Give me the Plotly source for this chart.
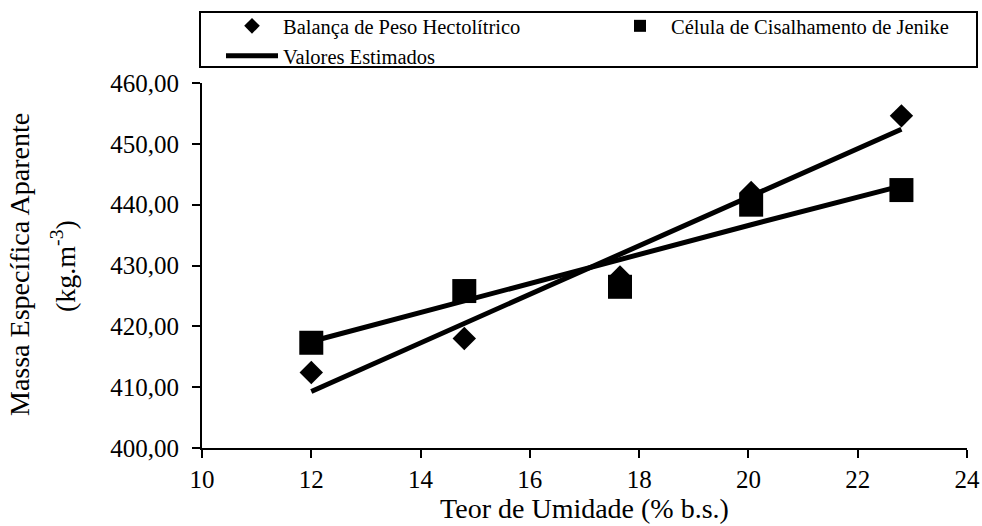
import plotly.graph_objects as go

# Data
umidade = [12.0, 14.8, 17.65, 20.05, 22.8]
balanca = [412.4, 418.0, 428.1, 442.0, 454.6]
jenike = [417.3, 425.8, 426.5, 440.0, 442.4]
estimado_balanca = [409.3, 420.5, 431.9, 441.4, 452.4]
estimado_jenike = [417.5, 424.2, 431.0, 436.7, 443.1]

FONT = "Liberation Serif"

L, R, T, B = 202, 15, 83, 78
W, H = 982, 526
PW, PH = W - L - R, H - T - B


def px_x(px):
    return (px - L) / PW


def px_y(py):
    return (H - B - py) / PH


fig = go.Figure()

fig.add_trace(go.Scatter(
    x=umidade, y=estimado_balanca, mode="lines",
    line=dict(color="black", width=5),
    name="Valores Estimados", legend="legend3", showlegend=True,
))
fig.add_trace(go.Scatter(
    x=umidade, y=estimado_jenike, mode="lines",
    line=dict(color="black", width=5),
    name="Valores Estimados", showlegend=False,
))
fig.add_trace(go.Scatter(
    x=umidade, y=balanca, mode="markers",
    marker=dict(symbol="diamond", size=18, color="black"),
    name="Balança de Peso Hectolítrico", legend="legend",
))
fig.add_trace(go.Scatter(
    x=umidade, y=jenike, mode="markers",
    marker=dict(symbol="square", size=24, color="black"),
    name="Célula de Cisalhamento de Jenike", legend="legend2",
))

legend_common = dict(
    orientation="h", xanchor="left", yanchor="top",
    bgcolor="rgba(0,0,0,0)", borderwidth=0,
    font=dict(family=FONT, size=20.5, color="black"),
    itemsizing="constant", itemwidth=52,
)

fig.update_layout(
    width=W, height=H,
    margin=dict(l=L, r=R, t=T, b=B, autoexpand=False),
    paper_bgcolor="white", plot_bgcolor="white",
    separators=",.",
    font=dict(family=FONT, color="black", size=25),
    legend=dict(x=px_x(221), y=px_y(6), **legend_common),
    legend2=dict(x=px_x(609), y=px_y(6), **legend_common),
    legend3=dict(x=px_x(221), y=px_y(36), **legend_common),
    shapes=[dict(
        type="rect", xref="paper", yref="paper",
        x0=px_x(200), x1=px_x(977), y0=px_y(67), y1=px_y(12),
        line=dict(color="black", width=2), fillcolor="rgba(0,0,0,0)",
        layer="below",
    )],
    annotations=[
        dict(text="Massa Específica Aparente", xref="paper", yref="paper",
             x=px_x(19), y=px_y(265), textangle=-90, showarrow=False,
             font=dict(family=FONT, size=28), xanchor="center", yanchor="middle"),
        dict(text="(kg.m<sup>-3</sup>)", xref="paper", yref="paper",
             x=px_x(63), y=px_y(266), textangle=-90, showarrow=False,
             font=dict(family=FONT, size=28), xanchor="center", yanchor="middle"),
    ],
    xaxis=dict(
        range=[10, 24], dtick=2, tick0=10,
        showgrid=False, zeroline=False,
        showline=True, linecolor="black", linewidth=2,
        ticks="outside", ticklen=8, tickwidth=2, tickcolor="black",
        tickfont=dict(family=FONT, size=25),
        title=dict(text="Teor de Umidade (% b.s.)",
                   font=dict(family=FONT, size=28), standoff=2),
    ),
    yaxis=dict(
        range=[400, 460], dtick=10, tick0=400,
        tickformat=".2f",
        showgrid=False, zeroline=False,
        showline=True, linecolor="black", linewidth=2,
        ticks="outside", ticklen=8, tickwidth=2, tickcolor="black",
        tickfont=dict(family=FONT, size=25),
        ticklabelstandoff=8,
    ),
)

fig.write_html("out.html")
